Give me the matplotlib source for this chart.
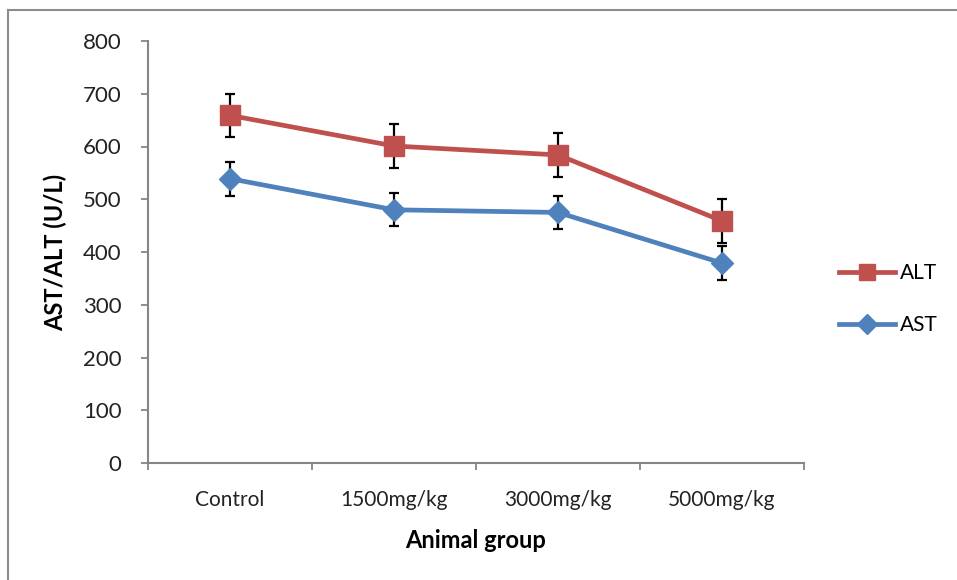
import numpy as np
import matplotlib.pyplot as plt
from matplotlib.lines import Line2D

# values
groups = ["Control", "1500mg/kg", "3000mg/kg", "5000mg/kg"]
alt_mean = [659, 601, 584, 459]
alt_err = [41, 42, 42, 42]
ast_mean = [539, 480, 475, 379]
ast_err = [32, 31, 31, 32]

alt_color = "#C0504D"
ast_color = "#4F81BD"
grey = "#868686"

plt.rcParams['font.family'] = ['Lato', 'DejaVu Sans']

fig = plt.figure(figsize=(9.57, 5.8), dpi=100)
ax = fig.add_axes([148/957, 1-463/580, (804-148)/957, (463-41)/580])

x = np.arange(len(groups))

ax.errorbar(x, ast_mean, yerr=ast_err, fmt="none", ecolor="black",
            elinewidth=1.6, capsize=3.5, capthick=1.6, zorder=3)
ax.plot(x, ast_mean, color=ast_color, lw=3.4, marker="D", ms=11.5,
        zorder=4, label="AST")
ax.errorbar(x, alt_mean, yerr=alt_err, fmt="none", ecolor="black",
            elinewidth=1.6, capsize=3.5, capthick=1.6, zorder=5)
ax.plot(x, alt_mean, color=alt_color, lw=3.4, marker="s", ms=14.5,
        zorder=6, label="ALT")

ax.set_xlim(-0.5, len(groups) - 0.5)
ax.set_ylim(0, 800)
ax.set_yticks(np.arange(0, 801, 100))

# category boundaries carry the tick marks, labels sit in between
ax.set_xticks(np.arange(-0.5, len(groups), 1.0))
ax.set_xticklabels([])
ax.set_xticks(x, minor=True)
ax.set_xticklabels(groups, minor=True, fontsize=15)
ax.tick_params(axis="x", which="major", length=5, width=1.3, color=grey, direction="out")
ax.tick_params(axis="x", which="minor", length=0, pad=19.5, labelcolor="#222222")
ax.tick_params(axis="y", length=5, width=1.3, color=grey, direction="out",
               pad=14, labelsize=16, labelcolor="#222222")

for side in ["top", "right"]:
    ax.spines[side].set_visible(False)
for side in ["left", "bottom"]:
    ax.spines[side].set_color(grey)
    ax.spines[side].set_linewidth(1.5)

ax.set_xlabel("Animal group", fontsize=17, fontweight="bold", labelpad=13.5)
ax.set_ylabel("AST/ALT (U/L)", fontsize=17, fontweight="bold", labelpad=11)

handles = [
    Line2D([], [], color=alt_color, lw=3.4, marker="s", ms=12),
    Line2D([], [], color=ast_color, lw=3.4, marker="D", ms=10),
]
fig.legend(handles, ["ALT", "AST"], loc="center left",
           bbox_to_anchor=(820/957, 1-299/580), frameon=False,
           fontsize=15, handlelength=2.7, handletextpad=0.25, labelspacing=1.55)

# outer chart border
fig.add_artist(Line2D([8/957, 1], [1-10/580, 1-10/580], color="#8c8c8c", lw=1.5))
fig.add_artist(Line2D([8/957, 8/957], [0, 1-10/580], color="#8c8c8c", lw=1.5))

fig.savefig("out.png", dpi=100)
